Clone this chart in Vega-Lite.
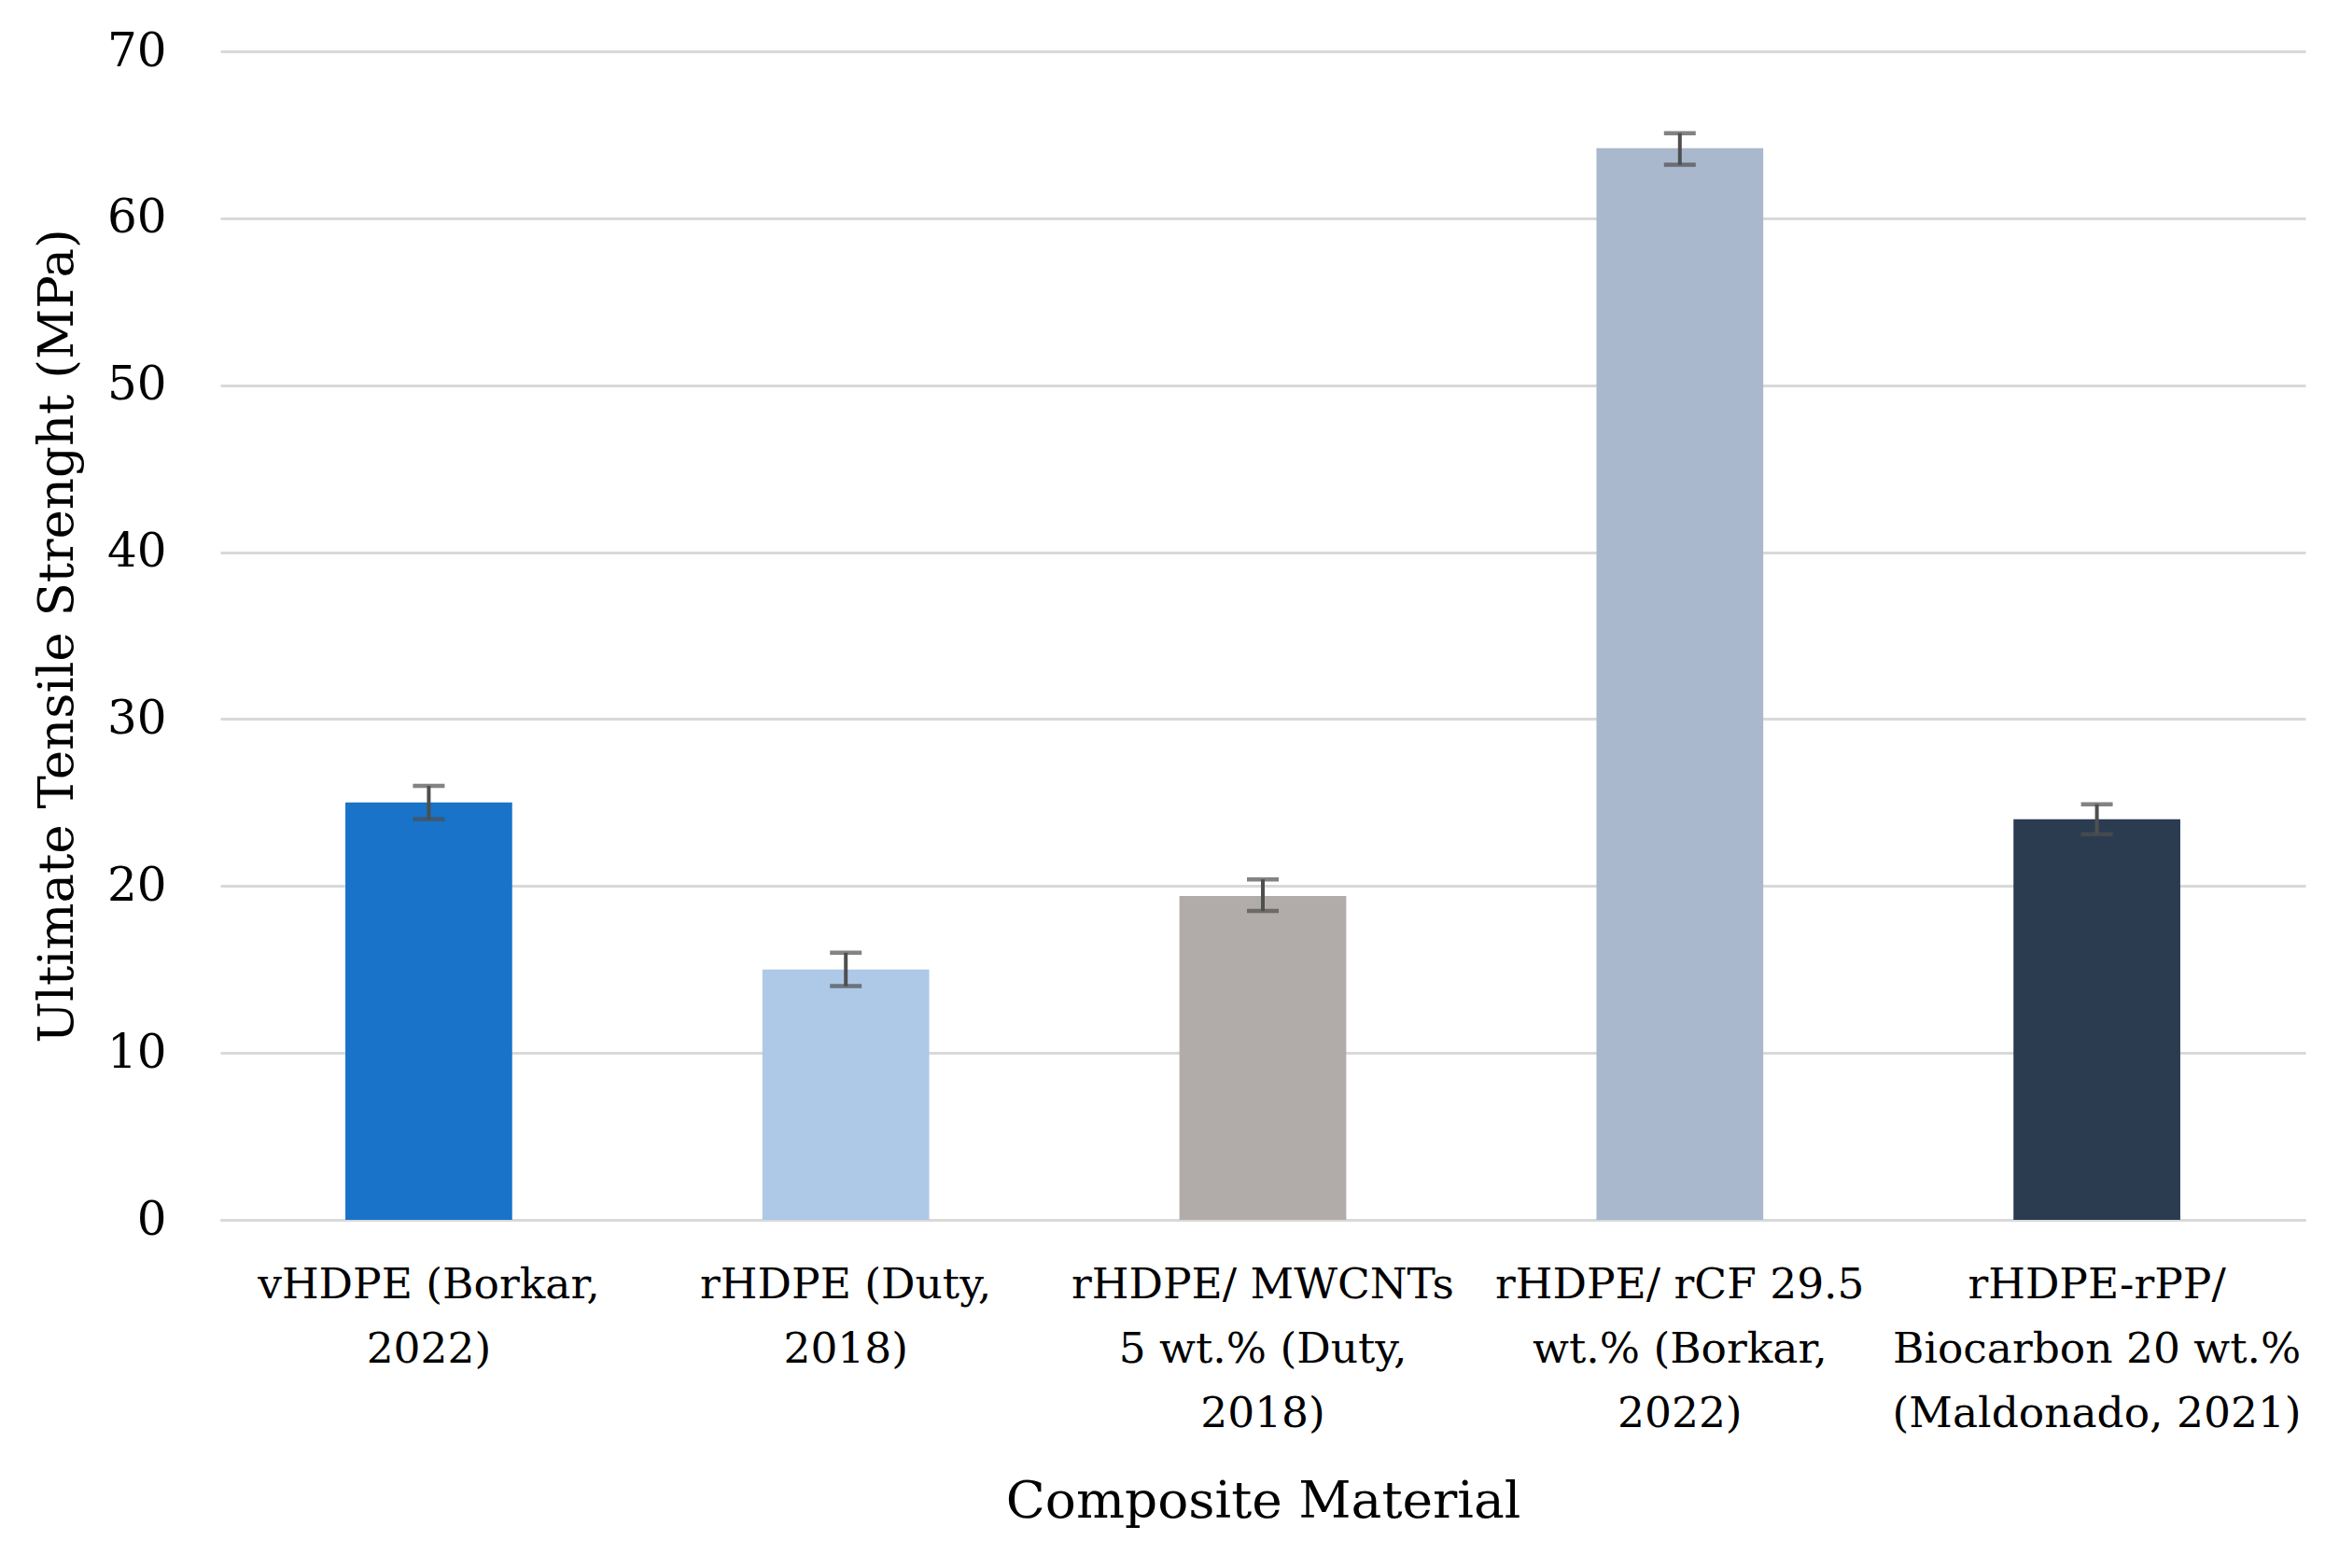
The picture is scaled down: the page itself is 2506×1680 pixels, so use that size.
{
  "$schema": "https://vega.github.io/schema/vega-lite/v6.json",
  "autosize": {"type": "none"},
  "width": 2234,
  "height": 1252,
  "padding": {"left": 236, "top": 55, "right": 36, "bottom": 373},
  "background": "white",
  "config": {
    "view": {"stroke": null},
    "font": "DejaVu Serif"
  },
  "data": {
    "values": [
      {"material": "vHDPE (Borkar,|2022)", "value": 25.0, "lo": 24.0, "hi": 26.0},
      {"material": "rHDPE (Duty,|2018)", "value": 15.0, "lo": 14.0, "hi": 16.0},
      {"material": "rHDPE/ MWCNTs|5 wt.% (Duty,|2018)", "value": 19.4, "lo": 18.5, "hi": 20.4},
      {"material": "rHDPE/ rCF 29.5|wt.% (Borkar,|2022)", "value": 64.2, "lo": 63.2, "hi": 65.1},
      {"material": "rHDPE-rPP/|Biocarbon 20 wt.%|(Maldonado, 2021)", "value": 24.0, "lo": 23.1, "hi": 24.9}
    ]
  },
  "encoding": {
    "x": {
      "field": "material",
      "type": "nominal",
      "sort": null,
      "scale": {"paddingInner": 0.6, "paddingOuter": 0.3},
      "axis": {
        "title": "Composite Material",
        "labelExpr": "split(datum.value, '|')",
        "labelAngle": 0,
        "labelLimit": 0,
        "labelFontSize": 45.5,
        "labelColor": "#000000",
        "labelLineHeight": 69,
        "labelPadding": 47,
        "labelBaseline": "top",
        "ticks": false,
        "domainColor": "#d9d9d9",
        "domainWidth": 3,
        "titleFontSize": 55,
        "titleFontWeight": "normal",
        "titleColor": "#000000",
        "titleY": 301,
        "titleBaseline": "middle"
      }
    }
  },
  "layer": [
    {
      "mark": {"type": "bar"},
      "encoding": {
        "y": {
          "field": "value",
          "type": "quantitative",
          "scale": {"domain": [0, 70]},
          "axis": {
            "title": "Ultimate Tensile Strenght (MPa)",
            "values": [0, 10, 20, 30, 40, 50, 60, 70],
            "domain": false,
            "ticks": false,
            "labelFontSize": 50,
            "labelColor": "#000000",
            "labelPadding": 58,
            "gridColor": "#d9d9d9",
            "gridWidth": 3,
            "titleFontSize": 53,
            "titleFontWeight": "normal",
            "titleColor": "#000000",
            "titleX": -175,
            "titleBaseline": "middle"
          }
        },
        "color": {
          "field": "material",
          "type": "nominal",
          "sort": null,
          "scale": {"range": ["#1873c9", "#aec8e8", "#b1acaa", "#a9b8cc", "#2b3c51"]},
          "legend": null
        }
      }
    },
    {
      "mark": {"type": "rule", "color": "#4f4f4f", "strokeWidth": 4},
      "encoding": {
        "y": {"field": "lo", "type": "quantitative"},
        "y2": {"field": "hi"}
      }
    },
    {
      "mark": {"type": "tick", "color": "#4f4f4f", "thickness": 4.5, "size": 34},
      "encoding": {
        "y": {"field": "lo", "type": "quantitative"}
      }
    },
    {
      "mark": {"type": "tick", "color": "#4f4f4f", "thickness": 4.5, "size": 34},
      "encoding": {
        "y": {"field": "hi", "type": "quantitative"}
      }
    }
  ]
}
